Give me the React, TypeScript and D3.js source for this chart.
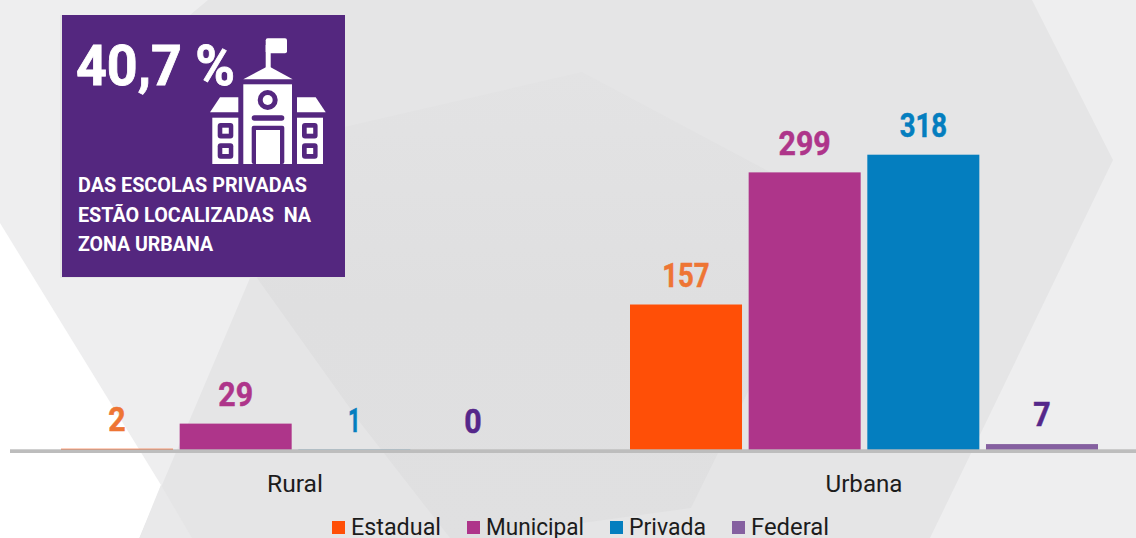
import React from "react";
import * as d3 from "d3";

const categories = ["Rural", "Urbana"];
const seriesNames = ["Estadual", "Municipal", "Privada", "Federal"];
const estadual = [2, 157];
const municipal = [29, 299];
const privada = [1, 318];
const federal = [0, 7];
const seriesValues = [estadual, municipal, privada, federal];

const barColors = ["#ff4f07", "#ae358a", "#047ebf", "#8560a0"];
const labelColors = ["#ee7534", "#ae358a", "#047ebf", "#55278a"];
const legendSquareX = [332, 467, 610, 732];
const legendTextWidths = [90, 98, 77, 78];
const categoryTextWidths = [56, 77];

const headline = "40,7 %";
const captionLines = ["DAS ESCOLAS PRIVADAS", "ESTÃO LOCALIZADAS  NA", "ZONA URBANA"];
const captionWidths = [229, 233, 135];

const FONT = "Roboto, 'Open Sans', sans-serif";
const PURPLE = "#54277f";

const x0 = d3.scaleBand<string>().domain(categories).range([10.5, 1148.5]);
const x1 = d3.scaleBand<string>().domain(seriesNames).range([50.5, 518.5]).paddingInner(0.056);
const y = d3.scaleLinear().domain([0, 318]).range([450.6, 154.7]);

const poly = d3.line().curve(d3.curveLinearClosed);

const bgMedium: [number, number][] = [[208, 0], [1032, 0], [1113, 160], [930, 538], [139.5, 538], [250, 278], [60, 278], [60, 15], [190, 15]];
const bgDark: [number, number][] = [[582, 72], [838, 208], [720, 449], [691, 508], [568, 525], [510, 538], [450, 538], [362, 425], [257, 278], [344, 127]];
const bgWhite: [number, number][] = [[0, 223], [161, 485], [139.5, 538], [0, 538]];
const bgPale: [number, number][] = [[161, 485], [192, 538], [139.5, 538]];

const digitWidth = (ch: string) => (ch === "1" ? 12.5 : 17.4);
const labelWidth = (v: number) => d3.sum(String(v).split(""), digitWidth);

function Rr(p: { x0: number; y0: number; x1: number; y1: number; fill: string; r?: number }) {
  return <rect x={p.x0} y={p.y0} width={p.x1 - p.x0} height={p.y1 - p.y0} rx={p.r ?? 0} fill={p.fill} />;
}

function School() {
  const W = "#ffffff";
  const wings = [
    { bx: 212.3, bw: 26, wx: 217.7, ix: 222.3, roof: [[210, 112.3], [238.3, 112.3], [238.3, 97.3], [220, 97.3]] },
    { bx: 297, bw: 26, wx: 302, ix: 306.7, roof: [[297, 97.3], [315.7, 97.3], [325.7, 112.3], [297, 112.3]] },
  ];
  return (
    <g>
      <Rr x0={265.7} y0={38.3} x1={287} y1={53.3} fill={W} r={2} />
      <Rr x0={265.7} y0={45} x1={270.7} y1={68} fill={W} />
      <path d={poly([[243.3, 79.3], [292.7, 79.3], [268.3, 66]]) as string} fill={W} />
      <Rr x0={243.3} y0={84.3} x1={292} y1={164} fill={W} />
      <circle cx={267.7} cy={100} r={10} fill={PURPLE} />
      <circle cx={267.7} cy={100} r={5} fill={W} />
      <Rr x0={251.7} y0={115.3} x1={284.3} y1={120.7} fill={PURPLE} r={2.7} />
      <Rr x0={251.7} y0={125.7} x1={284.3} y1={164} fill={PURPLE} r={2} />
      <Rr x0={256} y0={130} x1={280} y1={164} fill={W} />
      {wings.map((w, i) => (
        <g key={i}>
          <path d={poly(w.roof as [number, number][]) as string} fill={W} />
          <Rr x0={w.bx} y0={117.7} x1={w.bx + w.bw} y1={164} fill={W} />
          {[123, 143.3].map((wy) => (
            <g key={wy}>
              <Rr x0={w.wx} y0={wy} x1={w.wx + 15.6} y1={wy + 15.4} fill={PURPLE} r={3} />
              <Rr x0={w.ix} y0={wy + 4.7} x1={w.ix + 6.5} y1={wy + 10.7} fill={W} />
            </g>
          ))}
        </g>
      ))}
    </g>
  );
}

export default function App() {
  return (
    <svg
      width={1136}
      height={538}
      viewBox="0 0 1136 538"
      style={{ position: "fixed", left: 0, top: 0, display: "block" }}
      fontFamily={FONT}
    >
      <defs>
        <linearGradient id="darkFade" x1="0" y1="0" x2="0" y2="1">
          <stop offset="0" stopColor="#e3e3e4" />
          <stop offset="0.5" stopColor="#dfdfe0" />
          <stop offset="1" stopColor="#e0e0e1" />
        </linearGradient>
      </defs>
      <rect width={1136} height={538} fill="#eeeeef" />
      <path d={poly(bgWhite) as string} fill="#ffffff" />
      <path d={poly(bgMedium) as string} fill="#e5e5e6" />
      <path d={poly(bgPale) as string} fill="#e9e9ea" />
      <path d={poly(bgDark) as string} fill="url(#darkFade)" />

      {categories.map((c, ci) =>
        seriesNames.map((s, si) => {
          const v = seriesValues[si][ci];
          const bx = (x0(c) as number) + (x1(s) as number);
          const cx = bx + x1.bandwidth() / 2;
          return (
            <g key={c + s}>
              {v > 0 && <rect x={bx} y={y(v)} width={x1.bandwidth()} height={y(0) - y(v)} fill={barColors[si]} />}
              <text
                x={cx}
                y={y(v) - 17.7}
                textAnchor="middle"
                fontSize={33}
                fontWeight={700}
                fill={labelColors[si]}
                stroke={labelColors[si]}
                strokeWidth={0.5}
                textLength={labelWidth(v)}
                lengthAdjust="spacingAndGlyphs"
              >
                {v}
              </text>
            </g>
          );
        })
      )}

      <rect x={10} y={449.3} width={1126} height={3.7} fill="#bdbdbd" />

      {categories.map((c, i) => (
        <text
          key={c}
          x={(x0(c) as number) + x0.bandwidth() / 2}
          y={491.5}
          textAnchor="middle"
          fontSize={23}
          fill="#1c1c1c"
          textLength={categoryTextWidths[i]}
          lengthAdjust="spacingAndGlyphs"
        >
          {c}
        </text>
      ))}

      {seriesNames.map((s, i) => (
        <g key={s}>
          <rect x={legendSquareX[i]} y={521} width={13} height={13} fill={barColors[i]} />
          <text
            x={legendSquareX[i] + 19}
            y={535}
            fontSize={23}
            fill="#1c1c1c"
            textLength={legendTextWidths[i]}
            lengthAdjust="spacingAndGlyphs"
          >
            {s}
          </text>
        </g>
      ))}

      <rect x={62} y={15} width={283} height={262} fill={PURPLE} />
      <text
        x={76}
        y={85}
        fontSize={55}
        fontWeight={700}
        fill="#ffffff"
        stroke="#ffffff"
        strokeWidth={0.8}
        textLength={159}
        lengthAdjust="spacingAndGlyphs"
        style={{ whiteSpace: "pre" }}
      >
        {headline}
      </text>
      <School />
      {captionLines.map((l, i) => (
        <text
          key={i}
          x={78}
          y={192 + i * 29.7}
          fontSize={20}
          fontWeight={700}
          fill="#ffffff"
          textLength={captionWidths[i]}
          lengthAdjust="spacingAndGlyphs"
          style={{ whiteSpace: "pre" }}
        >
          {l}
        </text>
      ))}
    </svg>
  );
}
